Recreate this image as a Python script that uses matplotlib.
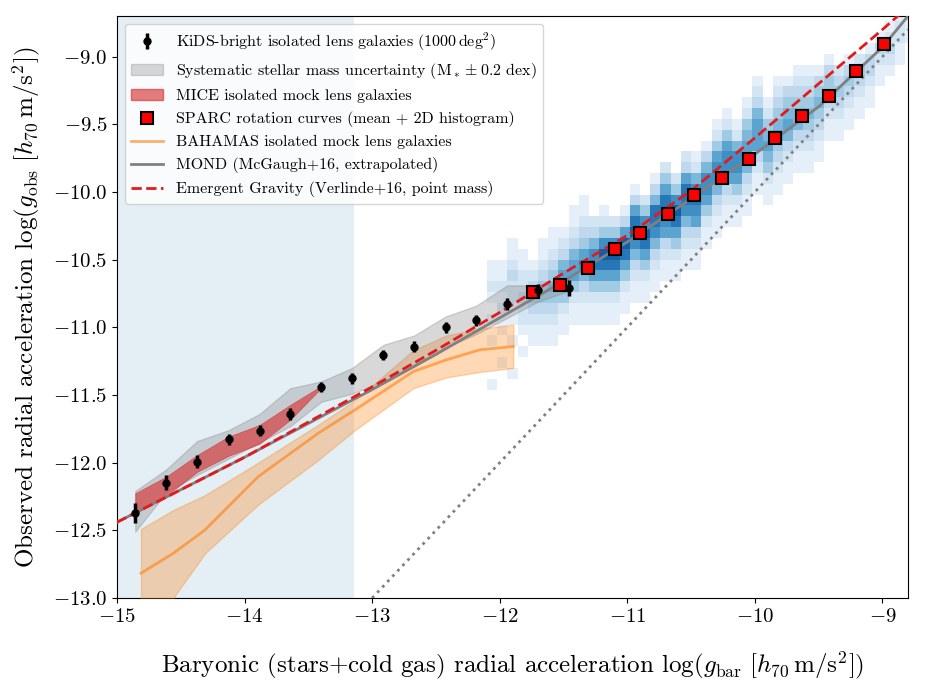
import numpy as np
import matplotlib
matplotlib.use("Agg")
import matplotlib.pyplot as plt
from matplotlib.patches import Patch
from matplotlib.lines import Line2D
from matplotlib.ticker import FormatStrFormatter

plt.rcParams['font.family'] = 'serif'
plt.rcParams['font.serif'] = ['cmr10']
plt.rcParams['mathtext.fontset'] = 'cm'
plt.rcParams['axes.formatter.use_mathtext'] = True

# KiDS-bright lensing RAR
kids_x = [-14.857, -14.614, -14.371, -14.125, -13.882, -13.642, -13.399, -13.156,
          -12.913, -12.670, -12.424, -12.184, -11.941, -11.700, -11.458]
kids_y = [-12.374, -12.148, -11.992, -11.827, -11.763, -11.640, -11.442, -11.376,
          -11.203, -11.144, -10.999, -10.947, -10.829, -10.725, -10.710]
kids_err = [0.074, 0.054, 0.045, 0.040, 0.043, 0.043, 0.038, 0.040,
            0.035, 0.040, 0.040, 0.040, 0.044, 0.047, 0.059]

# systematic stellar mass band
sys_hi = [-12.21, -12.05, -11.84, -11.76, -11.64, -11.45, -11.40, -11.30,
          -11.13, -11.06, -10.92, -10.84, -10.69, -10.69, -10.67]
sys_lo = [-12.51, -12.22, -12.09, -11.97, -11.85, -11.73, -11.55, -11.49,
          -11.40, -11.29, -11.15, -11.05, -10.93, -10.81, -10.73]

# MICE mock band
mice_x = [-14.857, -14.614, -14.371, -14.125, -13.882, -13.642, -13.399]
mice_hi = [-12.226, -12.103, -11.943, -11.807, -11.721, -11.573, -11.433]
mice_lo = [-12.372, -12.246, -12.068, -11.950, -11.861, -11.684, -11.448]

# BAHAMAS mock
bah_x = [-14.812, -14.559, -14.31, -13.893, -13.422, -13.135, -12.678, -12.417, -12.155, -11.894]
bah_y = [-12.817, -12.670, -12.497, -12.103, -11.782, -11.610, -11.327, -11.240, -11.166, -11.142]
bah_hi = [-12.49, -12.35, -12.24, -12.00, -11.72, -11.54, -11.17, -11.06, -11.01, -10.98]
bah_lo = [-13.30, -13.00, -12.67, -12.31, -11.98, -11.76, -11.45, -11.37, -11.33, -11.30]

# SPARC mean points
sparc_x = [-11.74, -11.53, -11.31, -11.10, -10.90, -10.68, -10.48, -10.26, -10.05,
           -9.84, -9.63, -9.42, -9.21, -8.99]
sparc_y = [-10.74, -10.69, -10.56, -10.42, -10.30, -10.16, -10.02, -9.90, -9.76,
           -9.60, -9.44, -9.29, -9.11, -8.91]

# model curves
mond_x = [-15, -14, -13, -12.5, -12, -11.5, -11, -10.5, -10, -9.5, -9, -8.8]
mond_y = [-12.44, -11.96, -11.46, -11.20, -10.93, -10.66, -10.37, -10.05, -9.72, -9.37, -8.93, -8.70]
eg_x = [-15, -14, -13, -12.5, -12, -11.5, -11, -10.5, -10, -9.5, -9, -8.7]
eg_y = [-12.44, -11.96, -11.44, -11.17, -10.89, -10.60, -10.32, -9.99, -9.60, -9.20, -8.80, -8.55]
unity = [-13.0, -8.8]

# SPARC 2D histogram: per column (first row, counts going up), 0.08 dex cells
hist_x0, hist_y0, hist_dx, hist_dy = -12.1, -11.7, 0.08, 0.08
hist_cols = [
    (3, "1000101012110"), (5, "1001121211"), (4, "1001011223211"), (6, "1012232211"),
    (7, "11234321"), (7, "1123443211"), (7, "11234543211"), (8, "1124565321"),
    (9, "11246653211"), (9, "112357643211"), (9, "1124687532"), (9, "11246897421"),
    (9, "1124689742"), (10, "1124689631"), (11, "11235798631"), (11, "1124689742"),
    (12, "11235788531"), (13, "11236788642"), (13, "1124689742"), (14, "11235788632"),
    (14, "11236787521"), (16, "1124677531"), (17, "11235776421"), (18, "11236776421"),
    (18, "1124677521"), (19, "11235665421"), (21, "11236665321"), (20, "1124565421"),
    (21, "11234654321"), (22, "1123565431"), (23, "1123554321"), (23, "1123454321"),
    (24, "112345431"), (26, "11234431"), (26, "1123432"), (27, "1123431"),
    (28, "112342"), (29, "112331"), (31, "11231"), (32, "12321"),
    (33, "11221"), (35, "1121"),
]
hist = np.zeros((42, len(hist_cols)))
for i, (r0, s) in enumerate(hist_cols):
    for j, ch in enumerate(s):
        hist[r0 + j, i] = int(ch)

fig = plt.figure(figsize=(9.27, 6.91), dpi=100)
ax = fig.add_axes([117 / 927, 1 - 598 / 691, 791 / 927, 582 / 691])

ax.axvspan(-15, -13.14, color='C0', alpha=0.12, lw=0, zorder=0)

xe = hist_x0 + hist_dx * np.arange(hist.shape[1] + 1)
ye = hist_y0 + hist_dy * np.arange(hist.shape[0] + 1)
ax.pcolormesh(xe, ye, np.ma.masked_equal(hist, 0), cmap='Blues', vmin=0, vmax=11, zorder=1)

ax.plot(unity, unity, ':', color='gray', lw=2, zorder=2)

ax.fill_between(bah_x, bah_lo, bah_hi, color='C1', alpha=0.3, lw=1, zorder=3)
ax.plot(bah_x, bah_y, color='C1', alpha=0.6, lw=2, zorder=3)

ax.fill_between(kids_x, sys_lo, sys_hi, facecolor='gray', edgecolor='gray', alpha=0.3, lw=1, zorder=4)
ax.fill_between(mice_x, mice_lo, mice_hi, color='tab:red', alpha=0.6, lw=0.5, zorder=4)

ax.plot(mond_x, mond_y, color='gray', lw=2, zorder=5)
ax.plot(eg_x, eg_y, '--', color='#e31a1c', lw=2, zorder=5)

ax.plot(sparc_x, sparc_y, 's', color='red', mec='black', mew=1.5, ms=8, zorder=6)
kids = ax.errorbar(kids_x, kids_y, yerr=kids_err, fmt='o', color='black', ms=5,
                   elinewidth=2.5, capsize=0, zorder=7)

ax.set_xlim(-15, -8.8)
ax.set_ylim(-13, -8.7)
ax.set_xticks([-15, -14, -13, -12, -11, -10, -9])
ax.set_yticks(np.arange(-13, -8.9, 0.5))
ax.yaxis.set_major_formatter(FormatStrFormatter('$%.1f$'))
ax.xaxis.set_major_formatter(FormatStrFormatter('$%d$'))
ax.tick_params(labelsize=15)

ax.set_xlabel(r'Baryonic (stars+cold gas) radial acceleration $\log(g_{\rm bar}\ [h_{70}\,{\rm m/s^2}])$',
              fontsize=18, labelpad=17)
ax.set_ylabel(r'Observed radial acceleration $\log(g_{\rm obs}\ [h_{70}\,{\rm m/s^2}])$',
              fontsize=18, labelpad=8)

handles = [
    kids,
    Patch(facecolor='gray', edgecolor='gray', alpha=0.3),
    Patch(facecolor='tab:red', edgecolor='tab:red', alpha=0.6),
    Line2D([], [], marker='s', color='red', mec='black', mew=1.5, ms=8, lw=0),
    Line2D([], [], color='C1', alpha=0.6, lw=2),
    Line2D([], [], color='gray', lw=2),
    Line2D([], [], color='#e31a1c', lw=2, ls='--'),
]
labels = [
    r'KiDS-bright isolated lens galaxies ($1000\,{\rm deg^2}$)',
    r'Systematic stellar mass uncertainty (${\rm M_*} \pm 0.2$ dex)',
    'MICE isolated mock lens galaxies',
    'SPARC rotation curves (mean + 2D histogram)',
    'BAHAMAS isolated mock lens galaxies',
    'MOND (McGaugh+16, extrapolated)',
    'Emergent Gravity (Verlinde+16, point mass)',
]
ax.legend(handles, labels, loc='upper left', fontsize=11.5)

fig.savefig('out.png', dpi=100)
